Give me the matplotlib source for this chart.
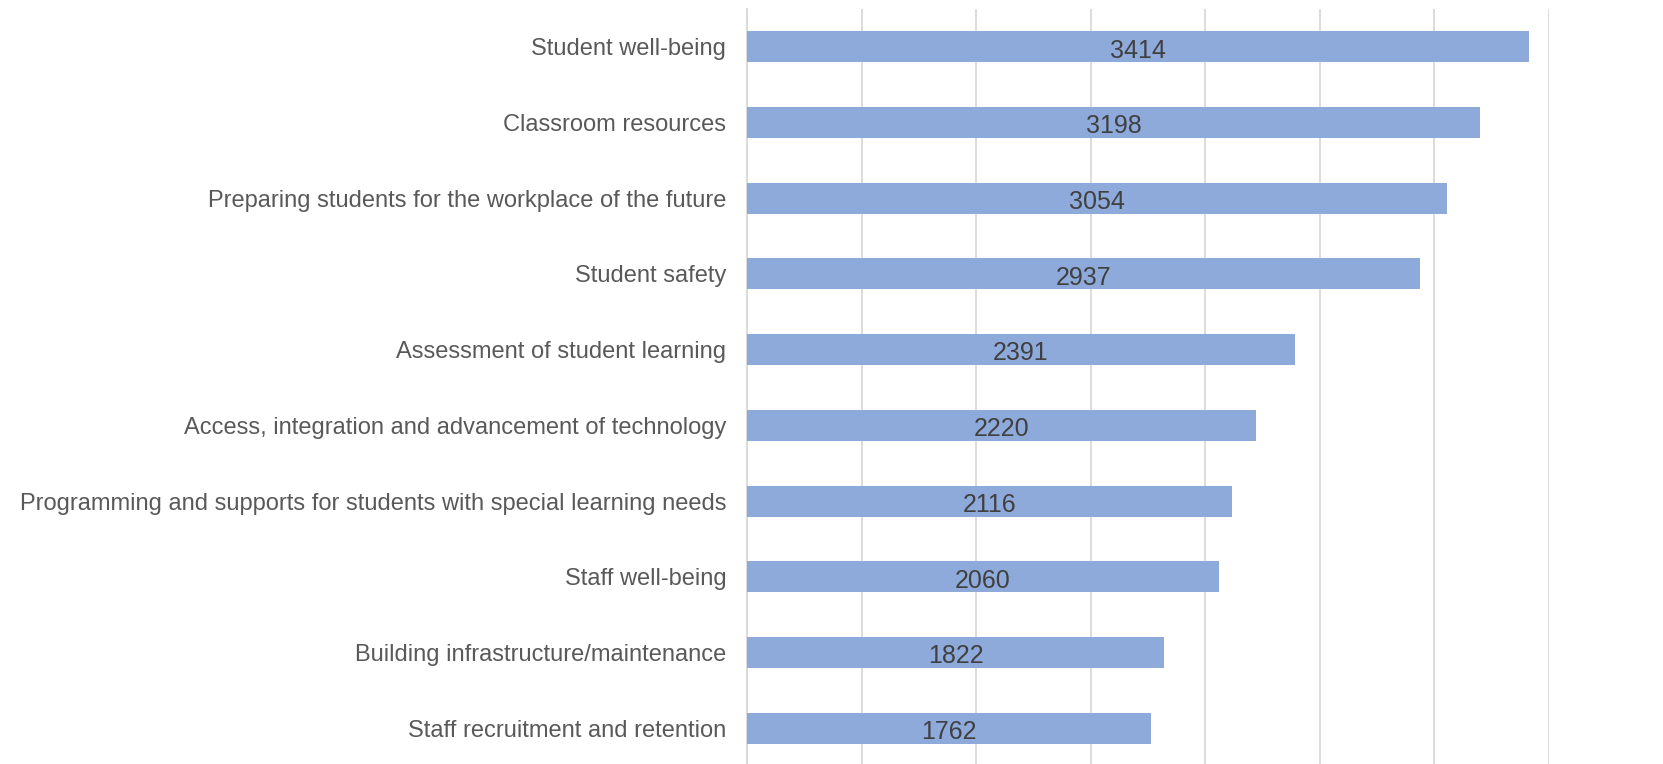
import matplotlib
matplotlib.use("Agg")
import matplotlib.pyplot as plt

categories = [
    "Student well-being",
    "Classroom resources",
    "Preparing students for the workplace of the future",
    "Student safety",
    "Assessment of student learning",
    "Access, integration and advancement of technology",
    "Programming and supports for students with special learning needs",
    "Staff well-being",
    "Building infrastructure/maintenance",
    "Staff recruitment and retention",
]
counts = [3414, 3198, 3054, 2937, 2391, 2220, 2116, 2060, 1822, 1762]
x_ticks = [0, 500, 1000, 1500, 2000, 2500, 3000, 3500]

plt.rcParams["font.family"] = ["Liberation Sans", "DejaVu Sans"]

W, H = 1663, 764
fig = plt.figure(figsize=(W / 100, H / 100), dpi=100)
ax = fig.add_axes([747 / W, -2 / H, (1549 - 747) / W, (764 - 9 + 2) / H])

ypos = list(range(len(categories)))
bars = ax.barh(ypos, counts, height=0.41, color="#8eaadb", zorder=3)

for b, v in zip(bars, counts):
    ax.text(b.get_width() / 2, b.get_y() + b.get_height() / 2 + 0.05, str(v),
            ha="center", va="center", fontsize=18, color="#404040", zorder=4)

ax.set_ylim(len(categories) - 0.5, -0.5)
ax.set_xlim(0, 3500)
ax.set_xticks(x_ticks)
ax.set_xticklabels([])
ax.tick_params(axis="x", length=0)
ax.xaxis.grid(True, color="#d9d9d9", linewidth=1.3, zorder=0)

ax.set_yticks(ypos)
ax.set_yticklabels(categories, fontsize=17, color="#595959")
ax.tick_params(axis="y", length=0, pad=15)

for side in ["top", "right", "bottom"]:
    ax.spines[side].set_visible(False)
ax.spines["left"].set_color("#d9d9d9")
ax.spines["left"].set_linewidth(1.3)

fig.savefig("out.png", dpi=100)
